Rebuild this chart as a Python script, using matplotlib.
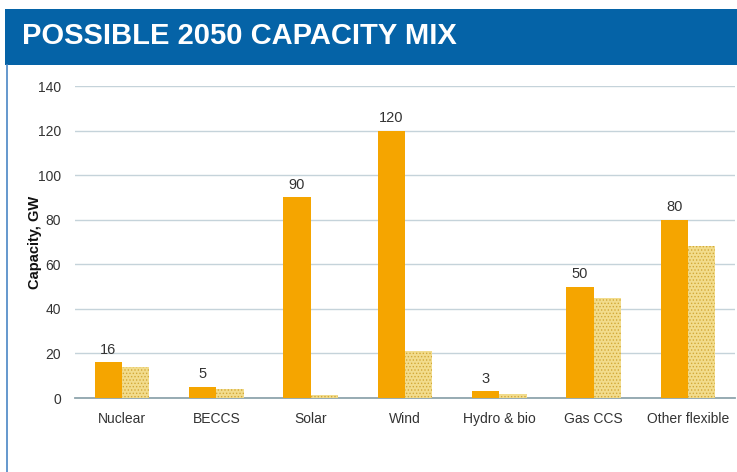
import matplotlib.pyplot as plt
import numpy as np
from matplotlib.patches import Rectangle

categories = ['Nuclear', 'BECCS', 'Solar', 'Wind', 'Hydro & bio', 'Gas CCS', 'Other flexible']
capacity_2050 = [16, 5, 90, 120, 3, 50, 80]
capacity_other = [14, 4, 1.5, 21, 2, 45, 68]
y_ticks = [0, 20, 40, 60, 80, 100, 120, 140]

plt.rcParams['font.family'] = ['Liberation Sans', 'DejaVu Sans']
plt.rcParams['hatch.linewidth'] = 0.6

fig = plt.figure(figsize=(7.37, 4.72), dpi=100)
W, H = 737, 472

# header band
fig.patches.append(Rectangle((5 / W, 1 - 65 / H), 1, 56 / H, transform=fig.transFigure,
                             facecolor='#0563a7', edgecolor='none', zorder=0))
fig.text(22 / W, 1 - 36 / H, 'POSSIBLE 2050 CAPACITY MIX', color='white', fontsize=21,
         fontweight='bold', va='center', ha='left')
# left border line of panel
fig.lines.append(plt.Line2D([7 / W, 7 / W], [0, 1 - 65 / H], transform=fig.transFigure,
                            color='#4a86c5', lw=1.2))

ax = fig.add_axes([75 / W, 1 - 398 / H, (735 - 75) / W, (398 - 86) / H])
x = np.arange(len(categories))
w = 0.29
ax.bar(x - w / 2, capacity_2050, w, color='#f5a500', zorder=3)
ax.bar(x + w / 2, capacity_other, w, color='#f2dc8c', edgecolor='#d2a838', hatch='.....',
       linewidth=0, zorder=3)
for xi, v in zip(x, capacity_2050):
    ax.text(xi - w / 2, v + 2.5, str(v), ha='center', va='bottom', fontsize=10.5, color='#333333')

ax.set_xlim(-0.5, len(categories) - 0.5)
ax.set_ylim(0, 140)
ax.set_yticks(y_ticks)
ax.set_xticks(x)
ax.set_xticklabels(categories)
ax.tick_params(axis='both', length=0, labelsize=10, colors='#333333')
ax.tick_params(axis='y', pad=10)
ax.tick_params(axis='x', pad=10)
ax.grid(axis='y', color='#c5d3da', lw=1, zorder=0)
for s in ['top', 'right', 'left']:
    ax.spines[s].set_visible(False)
ax.spines['bottom'].set_color('#8fa5ad')
ax.spines['bottom'].set_linewidth(1.3)
ax.set_ylabel('Capacity, GW', fontsize=10.5, fontweight='bold', color='#111111', labelpad=-3)

fig.savefig('out.png', dpi=100)
